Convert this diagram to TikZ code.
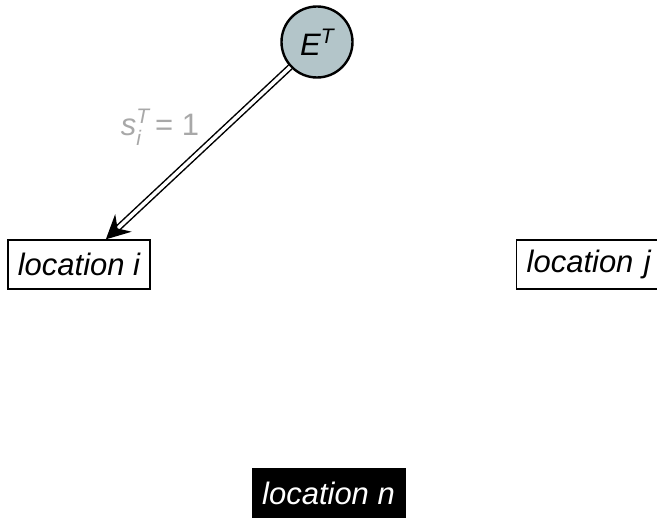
\documentclass[tikz,border=0pt]{standalone}
\usepackage{fontspec}
\setmainfont{Liberation Sans}
\usetikzlibrary{arrows.meta}
\definecolor{circfill}{HTML}{B3C5C9}
\definecolor{lblgray}{HTML}{A8A8A8}
\newcommand{\bigfont}{\fontsize{31}{36}\selectfont}
\newcommand{\smfont}{\fontsize{21}{24}\selectfont}
\tikzset{
  locbox/.style={draw=black, line width=1.3pt, fill=white, minimum width=142pt, minimum height=49pt, inner sep=0pt, font=\bigfont\itshape},
  locdark/.style={draw=black, fill=black, text=white, minimum width=153pt, minimum height=50pt, inner sep=0pt, font=\bigfont\itshape},
  evt/.style={circle, draw=black, line width=2.4pt, fill=circfill, minimum size=71pt, inner sep=0pt, font=\bigfont\itshape},
  link/.style={double=white, double distance=3.5pt, line width=1.5pt, -{Stealth[length=24pt,width=24pt,inset=8pt]}}
}
\begin{document}
\begin{tikzpicture}[x=1pt,y=-1pt]
\useasboundingbox (0,0) rectangle (657,518);
\clip (0,0) rectangle (657,518);
\node[evt] (E) at (317,42) {E\raisebox{0.4em}{\smfont T}};
\node[locbox] (li) at (79,264.5) {location i};
\node[locbox, anchor=west, minimum width=150pt, text width=130pt, align=left, inner xsep=10pt] (lj) at (516,264.5) {location j};
\node[locdark] (ln) at (328.5,493) {location n};
\draw[link] (E) -- (li);
\node[text=lblgray, font=\bigfont, anchor=center] (lab) at (160,127) {\textit{s}\rlap{\raisebox{0.4em}{\smfont\itshape T}}\raisebox{-0.3em}{\smfont\itshape i}\hspace{14pt}= 1};
\end{tikzpicture}
\end{document}
